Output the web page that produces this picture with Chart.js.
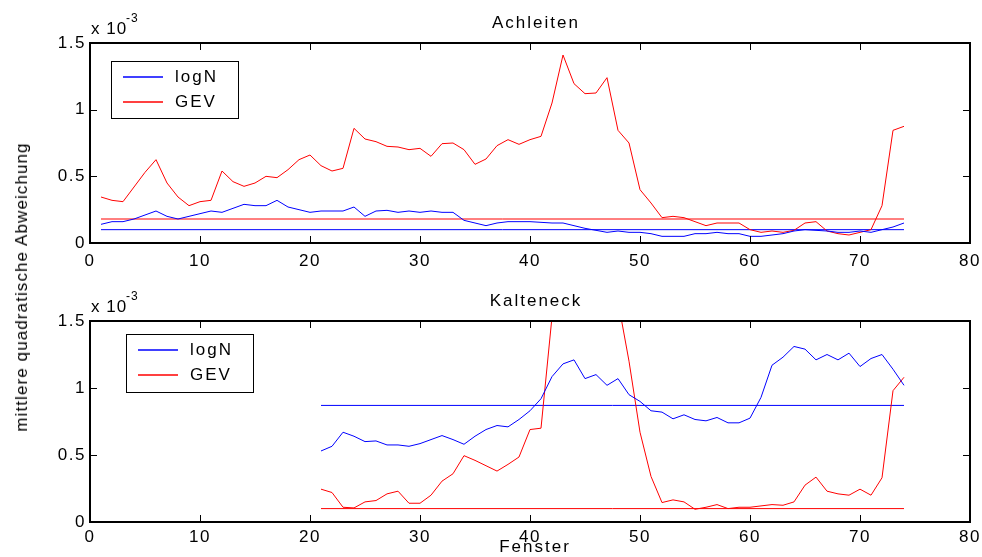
<!DOCTYPE html>
<html>
<head>
<meta charset="utf-8">
<script src="https://cdn.jsdelivr.net/npm/chart.js@4.4.1/dist/chart.umd.min.js"></script>
<style>
  body { margin: 0; background: #fff; }
  #wrap { position: relative; width: 982px; height: 557px; font-family: "Liberation Sans", Arial, sans-serif; }
  canvas { position: absolute; left: 0; }
  #ylab { position: absolute; left: 22px; top: 287px; transform: translate(-50%, -50%) rotate(-90deg); font-size: 17px; letter-spacing: 1.1px; white-space: nowrap; }
  #xlab { position: absolute; left: 535px; top: 547px; transform: translate(-50%, -50%); font-size: 17px; letter-spacing: 2px; }
</style>
</head>
<body>
<div id="wrap">
  <canvas id="top" width="982" height="278" style="top:0"></canvas>
  <canvas id="bottom" width="982" height="279" style="top:278px"></canvas>
  <div id="ylab">mittlere quadratische Abweichung</div>
  <div id="xlab">Fenster</div>
</div>
<script>
// window index (Fenster), values in units of 1e-3
const fensterA = [1,2,3,4,5,6,7,8,9,10,11,12,13,14,15,16,17,18,19,20,21,22,23,24,25,26,27,28,29,30,31,32,33,34,35,36,37,38,39,40,41,42,43,44,45,46,47,48,49,50,51,52,53,54,55,56,57,58,59,60,61,62,63,64,65,66,67,68,69,70,71,72,73,74];
const logNA = [0.14,0.16,0.16,0.18,0.21,0.24,0.20,0.18,0.20,0.22,0.24,0.23,0.26,0.29,0.28,0.28,0.32,0.27,0.25,0.23,0.24,0.24,0.24,0.27,0.20,0.24,0.245,0.23,0.24,0.23,0.24,0.23,0.23,0.17,0.15,0.13,0.15,0.16,0.16,0.16,0.155,0.15,0.15,0.13,0.11,0.095,0.08,0.09,0.08,0.08,0.07,0.05,0.05,0.05,0.07,0.07,0.08,0.07,0.07,0.05,0.05,0.06,0.07,0.09,0.10,0.095,0.09,0.08,0.08,0.09,0.08,0.10,0.12,0.15];
const gevA = [0.345,0.32,0.31,0.42,0.53,0.625,0.45,0.345,0.28,0.31,0.32,0.54,0.46,0.425,0.45,0.50,0.49,0.55,0.625,0.66,0.58,0.54,0.56,0.86,0.78,0.76,0.725,0.72,0.70,0.71,0.65,0.745,0.75,0.70,0.59,0.63,0.73,0.775,0.74,0.775,0.80,1.05,1.41,1.195,1.12,1.125,1.24,0.845,0.75,0.40,0.30,0.19,0.20,0.19,0.16,0.13,0.15,0.15,0.15,0.10,0.08,0.09,0.08,0.095,0.15,0.16,0.09,0.07,0.06,0.08,0.10,0.28,0.845,0.875];
const refA = { x: [1, 74], logN: 0.10, gev: 0.18 };

const fensterK = [21,22,23,24,25,26,27,28,29,30,31,32,33,34,35,36,37,38,39,40,41,42,43,44,45,46,47,48,49,50,51,52,53,54,55,56,57,58,59,60,61,62,63,64,65,66,67,68,69,70,71,72,73,74];
const logNK = [0.53,0.565,0.67,0.64,0.60,0.605,0.575,0.575,0.565,0.585,0.615,0.645,0.615,0.58,0.64,0.69,0.72,0.71,0.765,0.83,0.92,1.085,1.18,1.21,1.07,1.10,1.02,1.07,0.95,0.90,0.83,0.82,0.77,0.80,0.765,0.755,0.78,0.74,0.74,0.775,0.93,1.17,1.23,1.31,1.29,1.21,1.25,1.21,1.26,1.16,1.22,1.25,1.14,1.02];
const gevK = [0.245,0.22,0.11,0.105,0.15,0.16,0.21,0.23,0.14,0.14,0.20,0.305,0.36,0.495,0.46,0.42,0.38,0.43,0.485,0.69,0.70,1.53,2.0,2.4,2.2,2.3,1.9,1.65,1.2,0.67,0.34,0.145,0.165,0.15,0.095,0.11,0.13,0.10,0.11,0.11,0.12,0.13,0.125,0.15,0.275,0.335,0.23,0.21,0.20,0.245,0.20,0.33,0.98,1.08];
const refK = { x: [21, 74], logN: 0.87, gev: 0.10 };

const xTicks = [0,10,20,30,40,50,60,70,80];
const yTicks = [0,0.5,1,1.5];
const seriesNames = ["logN", "GEV"];
const BLUE = "#0000ff", RED = "#ff0000";
const FONT = '"Liberation Sans", Arial, sans-serif';

function pts(xs, ys) { return xs.map((x, i) => ({ x: x, y: ys[i] })); }

function line(label, data, color) {
  return { label: label, data: data, borderColor: color, borderWidth: 1, pointRadius: 0, tension: 0, fill: false };
}

// matlab-like box, inward ticks, title, exponent and legend
function framePlugin(title, legendBox) {
  return {
    id: "frame",
    beforeDraw(chart) {
      chart.ctx.letterSpacing = "1.5px";
    },
    afterDraw(chart) {
      const ctx = chart.ctx, a = chart.chartArea;
      const xs = chart.scales.x, ys = chart.scales.y;
      ctx.save();
      ctx.strokeStyle = "#000";
      ctx.lineWidth = 1;
      ctx.beginPath();
      xTicks.forEach(v => {
        const p = Math.round(xs.getPixelForValue(v)) + 0.5;
        ctx.moveTo(p, a.bottom); ctx.lineTo(p, a.bottom - 7);
        ctx.moveTo(p, a.top); ctx.lineTo(p, a.top + 7);
      });
      yTicks.forEach(v => {
        const p = Math.round(ys.getPixelForValue(v)) + 0.5;
        ctx.moveTo(a.left, p); ctx.lineTo(a.left + 7, p);
        ctx.moveTo(a.right, p); ctx.lineTo(a.right - 7, p);
      });
      ctx.stroke();
      ctx.lineWidth = 2;
      ctx.strokeRect(a.left, a.top, a.right - a.left, a.bottom - a.top);

      ctx.fillStyle = "#000";
      ctx.letterSpacing = "2px";
      ctx.font = "17px " + FONT;
      ctx.textAlign = "center";
      ctx.textBaseline = "middle";
      ctx.fillText(title, 536, a.top - 20);

      ctx.textAlign = "left";
      ctx.letterSpacing = "1px";
      ctx.fillText("x 10", a.left + 1, a.top - 14);
      ctx.font = "12px " + FONT;
      ctx.fillText("-3", a.left + 36, a.top - 24);

      // legend
      const b = legendBox;
      ctx.lineWidth = 1;
      ctx.strokeStyle = "#000";
      ctx.fillStyle = "#fff";
      ctx.fillRect(b.x, b.y, b.w, b.h);
      ctx.strokeRect(b.x + 0.5, b.y + 0.5, b.w, b.h);
      const colors = [BLUE, RED];
      ctx.font = "17px " + FONT;
      ctx.letterSpacing = "2px";
      seriesNames.forEach((n, i) => {
        const yy = b.y + 16 + i * 25;
        ctx.strokeStyle = colors[i];
        ctx.lineWidth = 1.3;
        ctx.beginPath();
        ctx.moveTo(b.x + 12, yy);
        ctx.lineTo(b.x + 52, yy);
        ctx.stroke();
        ctx.fillStyle = "#000";
        ctx.fillText(n, b.x + 64, yy);
      });
      ctx.restore();
    }
  };
}

function makeChart(id, title, fx, logN, gev, ref, legendBox, xPad) {
  return new Chart(document.getElementById(id), {
    type: "line",
    data: {
      datasets: [
        line("logN", pts(fx, logN), BLUE),
        line("GEV", pts(fx, gev), RED),
        line("logN ref", pts(ref.x, [ref.logN, ref.logN]), BLUE),
        line("GEV ref", pts(ref.x, [ref.gev, ref.gev]), RED)
      ]
    },
    options: {
      responsive: false,
      animation: false,
      devicePixelRatio: 1,
      layout: { padding: { left: 0, right: 12, top: 43, bottom: 0 } },
      plugins: { legend: { display: false }, title: { display: false }, tooltip: { enabled: false } },
      scales: {
        x: {
          type: "linear", min: 0, max: 80,
          afterBuildTicks: s => { s.ticks = xTicks.map(v => ({ value: v })); },
          ticks: { color: "#000", font: { size: 17, family: FONT }, padding: xPad, maxRotation: 0 },
          grid: { display: false, drawTicks: false },
          border: { display: false },
          afterFit: s => { s.height = 35; s.paddingLeft = 0; s.paddingRight = 0; }
        },
        y: {
          type: "linear", min: 0, max: 1.5,
          afterBuildTicks: s => { s.ticks = yTicks.map(v => ({ value: v })); },
          ticks: { color: "#000", font: { size: 17, family: FONT }, padding: 4, callback: v => String(v) },
          grid: { display: false, drawTicks: false },
          border: { display: false },
          afterFit: s => { s.width = 90; s.paddingTop = 0; s.paddingBottom = 0; }
        }
      }
    },
    plugins: [framePlugin(title, legendBox)]
  });
}

makeChart("top", "Achleiten", fensterA, logNA, gevA, refA, { x: 111, y: 61, w: 127, h: 57 }, 8);
makeChart("bottom", "Kalteneck", fensterK, logNK, gevK, refK, { x: 126, y: 56, w: 127, h: 58 }, 5);
</script>
</body>
</html>
